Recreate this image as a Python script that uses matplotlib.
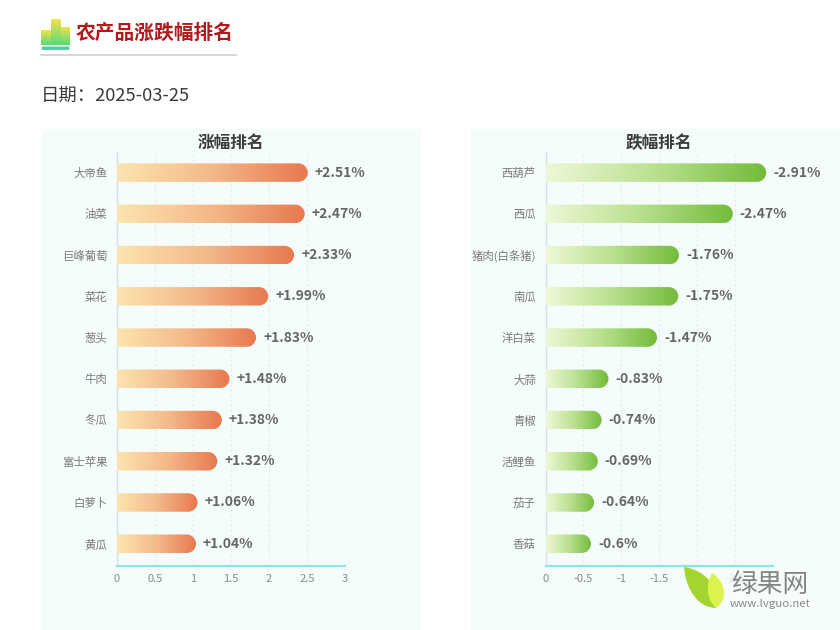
import numpy as np
import matplotlib
matplotlib.use("Agg")
import matplotlib.pyplot as plt
from matplotlib.colors import LinearSegmentedColormap
from matplotlib.patches import FancyBboxPatch, PathPatch, Rectangle
from matplotlib.path import Path

plt.rcParams['font.family'] = ['Noto Sans CJK SC', 'DejaVu Sans']

# data
up_names = ["大帝鱼", "油菜", "巨峰葡萄", "菜花", "葱头", "牛肉", "冬瓜", "富士苹果", "白萝卜", "黄瓜"]
up_values = [2.51, 2.47, 2.33, 1.99, 1.83, 1.48, 1.38, 1.32, 1.06, 1.04]
down_names = ["西葫芦", "西瓜", "猪肉(白条猪)", "南瓜", "洋白菜", "大蒜", "青椒", "活鲤鱼", "茄子", "香菇"]
down_values = [-2.91, -2.47, -1.76, -1.75, -1.47, -0.83, -0.74, -0.69, -0.64, -0.6]
up_ticks = [0, 0.5, 1, 1.5, 2, 2.5, 3]
down_ticks = [0, -0.5, -1, -1.5, -2, -2.5, -3]

W, H = 840, 630
fig = plt.figure(figsize=(W / 100, H / 100), dpi=100)

# background layer in pixel coordinates (panels, header)
bg = fig.add_axes([0, 0, 1, 1], zorder=0)
bg.set_xlim(0, W)
bg.set_ylim(H, 0)
bg.axis("off")
bg.add_patch(Rectangle((41, 129), 380, 501, color="#f4fdfb", lw=0))
bg.add_patch(Rectangle((470, 129), 370, 501, color="#f4fdfb", lw=0))

# header icon
icon_cmap = LinearSegmentedColormap.from_list("icon", ["#f2e34c", "#56d977"])
grad = np.linspace(0, 1, 64)[:, None]
for x0, x1, top_y in [(41, 51, 30), (51, 61, 19), (61, 70, 27)]:
    bg.imshow(grad, cmap=icon_cmap, extent=(x0, x1, 45, top_y), aspect="auto", zorder=2)
bg.add_patch(FancyBboxPatch((42, 47), 27, 2.5, boxstyle="round,pad=0.5,rounding_size=1.5",
                            fc="#4fd0a0", ec="none", zorder=2))
bg.set_xlim(0, W)
bg.set_ylim(H, 0)
bg.plot([41, 236], [54.5, 54.5], color="#cfcfcf", lw=1.2)
bg.text(76, 33.5, "农产品涨跌幅排名", fontsize=14.2, fontweight="bold", color="#b3191c", va="center")
bg.text(41, 95.5, "日期\uff1a2025-03-25", fontsize=13.2, color="#3a3a3a", va="center")
bg.text(231, 143, "涨幅排名", fontsize=12, fontweight="bold", color="#3c3c3c", ha="center", va="center")
bg.text(659, 143, "跌幅排名", fontsize=12, fontweight="bold", color="#3c3c3c", ha="center", va="center")


def bar_path(v, yc, bar_h, rx, ry):
    # rounded on the value end, nearly square on the axis end
    s = 1 if v > 0 else -1
    k = 0.55
    lx, ly = rx * 0.3, ry * 0.3
    t, b = yc - bar_h / 2, yc + bar_h / 2
    verts = [(s * lx, t), (v - s * rx, t),
             (v - s * rx * (1 - k), t), (v, yc - ry * k), (v, yc),
             (v, yc + ry * k), (v - s * rx * (1 - k), b), (v - s * rx, b),
             (s * lx, b),
             (0, b), (0, b), (0, b - ly),
             (0, t + ly),
             (0, t), (0, t), (s * lx, t)]
    codes = [Path.MOVETO, Path.LINETO,
             Path.CURVE4, Path.CURVE4, Path.CURVE4,
             Path.CURVE4, Path.CURVE4, Path.CURVE4,
             Path.LINETO,
             Path.CURVE4, Path.CURVE4, Path.CURVE4,
             Path.LINETO,
             Path.CURVE4, Path.CURVE4, Path.CURVE4]
    return Path(verts, codes)


def draw_panel(rect_px, names, values, ticks, xlim, colors, labels):
    x0, y0, x1, y1 = rect_px
    ax = fig.add_axes([x0 / W, 1 - y1 / H, (x1 - x0) / W, (y1 - y0) / H], zorder=1)
    ax.patch.set_alpha(0)
    cmap = LinearSegmentedColormap.from_list("bar", colors)
    grad = np.linspace(0, 1, 256)[None, :]
    ymax = len(names) + 0.04
    bar_h = 18.5 * ymax / (y1 - y0)
    rx = 9.2 * abs(xlim[1] - xlim[0]) / (x1 - x0)
    centers = np.arange(len(names)) + 0.5
    for yc, v, lab in zip(centers, values, labels):
        im = ax.imshow(grad, cmap=cmap, extent=(0, v, yc + bar_h / 2, yc - bar_h / 2),
                       aspect="auto", zorder=3)
        clip = PathPatch(bar_path(v, yc, bar_h, rx, bar_h / 2), transform=ax.transData,
                         fc="none", ec="none")
        ax.add_patch(clip)
        im.set_clip_path(clip)
        ax.annotate(lab, (v, yc), xytext=(5, 0), textcoords="offset points",
                    fontsize=10, fontweight="bold", color="#666666", va="center",
                    annotation_clip=False)
    ax.set_xlim(*xlim)
    ax.set_ylim(ymax, 0)
    ax.set_yticks(centers)
    ax.set_yticklabels(names, fontsize=8.2, color="#7a7a7a")
    ax.set_xticks(ticks)
    ax.set_xticklabels([f"{t:g}" for t in ticks], fontsize=8, color="#888888")
    ax.tick_params(length=0, axis="both")
    ax.tick_params(axis="y", pad=7)
    ax.tick_params(axis="x", pad=6)
    ax.grid(True, axis="x", color="#dfe8e6", linestyle=(0, (1.5, 2.5)), lw=0.9, zorder=1)
    for side in ["top", "right"]:
        ax.spines[side].set_visible(False)
    ax.spines["left"].set_color("#cfe3e3")
    ax.spines["left"].set_linewidth(1)
    ax.spines["bottom"].set_color("#8fe3ec")
    ax.spines["bottom"].set_linewidth(1.6)
    return ax


up_labels = [f"+{v:g}%" for v in up_values]
down_labels = [f"{v:g}%" for v in down_values]
draw_panel((117, 152, 345, 566), up_names, up_values, up_ticks, (0, 3),
           ["#fde4b0", "#f3b98a", "#e8784f"], up_labels)
draw_panel((545.5, 152, 773, 566), down_names, down_values, down_ticks, (0, -3),
           ["#eef8d6", "#b9e08f", "#72bb3a"], down_labels)

# watermark on top, its backdrop fades the ticks underneath
top = fig.add_axes([0, 0, 1, 1], zorder=5)
top.set_xlim(0, W)
top.set_ylim(H, 0)
top.axis("off")
top.add_patch(Rectangle((690, 569), 124, 44, fc="#f8fefc", ec="none", alpha=0.75))
C, M = Path.CURVE4, Path.MOVETO
big = Path([(684, 567), (706, 570), (720, 588), (716, 608),
            (700, 608), (686, 592), (684, 567)],
           [M, C, C, C, C, C, C])
small = Path([(712, 573), (724, 580), (730, 598), (716, 608),
              (707, 600), (705, 585), (712, 573)],
             [M, C, C, C, C, C, C])
top.add_patch(PathPatch(big, fc="#a3d52e", ec="none"))
top.add_patch(PathPatch(small, fc="#dcf24f", ec="none"))
top.text(770, 585, "绿果网", fontsize=18.5, color="#858585", ha="center", va="center")
top.text(770, 604, "www.lvguo.net", fontsize=8.2, color="#8a8a8a", ha="center", va="center")

fig.savefig("out.png", dpi=100)
